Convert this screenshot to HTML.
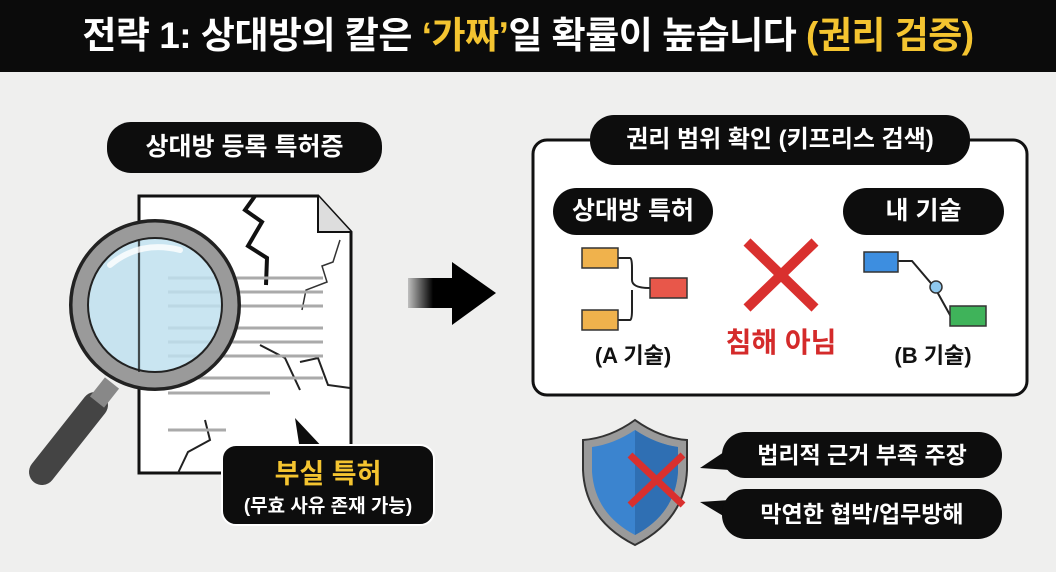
<!DOCTYPE html>
<html><head><meta charset="utf-8"><style>
*{margin:0;padding:0;box-sizing:border-box}
body{width:1056px;height:572px;background:#efefee;position:relative;overflow:hidden;font-family:"Liberation Sans","Noto Sans CJK KR",sans-serif;font-weight:bold}
.bar{position:absolute;left:0;top:0;width:1056px;height:72px;background:#0b0b0b;color:#fff;font-size:37px;text-align:center;line-height:72px;letter-spacing:-0.5px}
.y{color:#f4c430}
.pill{position:absolute;background:#0d0d0d;color:#fff;border-radius:24px;text-align:center;font-size:25px}
svg{position:absolute;left:0;top:0}
</style></head><body>
<div class="bar">전략 1: 상대방의 칼은 <span class="y">‘가짜’</span>일 확률이 높습니다 <span class="y">(권리 검증)</span></div>
<svg width="1056" height="572">
<path d="M139 196 L318 196 L351 232 L351 473 L139 473 Z" fill="#fff" stroke="#111" stroke-width="3"/>
<path d="M318 196 L318 232 L351 232" fill="#ddd" stroke="#111" stroke-width="2"/>
<path d="M255 196 L245 210 L262 222 L248 246 L267 258 L266 285" fill="none" stroke="#111" stroke-width="4"/>
<path d="M340 240 L333 262 L322 266 L327 282 L306 290 L302 310" fill="none" stroke="#333" stroke-width="1.5"/>
<path d="M260 345 L285 358 L300 390 M300 362 L318 358 L328 385 L350 388" fill="none" stroke="#222" stroke-width="2"/>
<path d="M205 420 L210 440 L188 452 L178 473" fill="none" stroke="#222" stroke-width="2"/>
<g stroke="#aaa" stroke-width="3">
<line x1="168" y1="278" x2="323" y2="278"/><line x1="168" y1="292" x2="323" y2="292"/><line x1="168" y1="306" x2="323" y2="306"/>
<line x1="168" y1="328" x2="323" y2="328"/><line x1="168" y1="342" x2="323" y2="342"/><line x1="168" y1="356" x2="323" y2="356"/>
<line x1="168" y1="378" x2="323" y2="378"/><line x1="168" y1="393" x2="270" y2="393"/><line x1="168" y1="430" x2="226" y2="430"/>
</g>
<line x1="95" y1="405" x2="40" y2="475" stroke="#222" stroke-width="4" stroke-linecap="round"/>
<line x1="95" y1="405" x2="42" y2="472" stroke="#444" stroke-width="26" stroke-linecap="round"/>
<line x1="112" y1="383" x2="97" y2="402" stroke="#888" stroke-width="18"/>
<circle cx="155" cy="305" r="84" fill="#bfe0ee" fill-opacity="0.85" stroke="#222" stroke-width="4"/>
<circle cx="155" cy="305" r="75" fill="none" stroke="#9a9a9a" stroke-width="15"/>
<circle cx="155" cy="305" r="67" fill="none" stroke="#222" stroke-width="2"/>
<line x1="139" y1="239" x2="139" y2="372" stroke="#222" stroke-width="1.5"/>
<path d="M110 265 Q140 240 180 250" fill="none" stroke="#fff" stroke-width="6" stroke-linecap="round" opacity="0.8"/>
<path d="M295 418 L325 450 L300 450 Z" fill="#0d0d0d"/>
<rect x="222" y="445" width="212" height="80" rx="14" fill="#0d0d0d" stroke="#fff" stroke-width="2"/>
<text x="328" y="483" font-size="27" fill="#f4c430" text-anchor="middle">부실 특허</text>
<text x="328" y="512" font-size="19" fill="#fff" text-anchor="middle">(무효 사유 존재 가능)</text>
<defs><linearGradient id="g" x1="0" x2="1"><stop offset="0" stop-color="#000" stop-opacity="0.2"/><stop offset="0.5" stop-color="#000"/></linearGradient></defs>
<rect x="408" y="278" width="50" height="30" fill="url(#g)"/>
<path d="M452 262 L496 293 L452 325 Z" fill="#000"/>
<rect x="533" y="140" width="494" height="255" rx="14" fill="#fff" stroke="#111" stroke-width="3"/>
<g stroke="#222" stroke-width="2" fill="none"><path d="M617 258 L630 258 Q632 258 632 268 L632 280 Q632 288 650 288 M617 320 L630 320 Q632 320 632 310 L632 290"/></g>
<rect x="582" y="248" width="36" height="20" fill="#f0b24c" stroke="#333" stroke-width="1.5"/>
<rect x="582" y="310" width="36" height="20" fill="#f0b24c" stroke="#333" stroke-width="1.5"/>
<rect x="650" y="278" width="37" height="20" fill="#e8574a" stroke="#333" stroke-width="1.5"/>
<path d="M898 261 L912 261 L935 288 L950 315 L962 315" fill="none" stroke="#222" stroke-width="2"/>
<rect x="864" y="252" width="34" height="20" fill="#3d8ee0" stroke="#333" stroke-width="1.5"/>
<circle cx="936" cy="287" r="6" fill="#8fc8ee" stroke="#333" stroke-width="1.5"/>
<rect x="950" y="306" width="36" height="20" fill="#3fb35a" stroke="#333" stroke-width="1.5"/>
<g stroke="#d9302e" stroke-width="10"><line x1="747" y1="242" x2="815" y2="308"/><line x1="815" y1="242" x2="747" y2="308"/></g>
<text x="781" y="352" font-size="28" fill="#d42a2a" text-anchor="middle">침해 아님</text>
<text x="633" y="363" font-size="22" fill="#111" text-anchor="middle">(A 기술)</text>
<text x="933" y="363" font-size="22" fill="#111" text-anchor="middle">(B 기술)</text>
<path d="M635 420 Q610 438 583 440 L583 470 Q585 520 635 545 Q685 520 687 470 L687 440 Q660 438 635 420 Z" fill="#9a9a9a" stroke="#333" stroke-width="2"/>
<path d="M635 430 Q614 444 592 447 L592 472 Q595 514 635 535 Q675 514 678 472 L678 447 Q656 444 635 430 Z" fill="#3b84cf"/>
<path d="M635 430 L635 535 Q675 514 678 472 L678 447 Q656 444 635 430 Z" fill="#2f6fb3"/>
<g stroke="#d9302e" stroke-width="7"><line x1="630" y1="455" x2="683" y2="505"/><line x1="683" y1="455" x2="630" y2="505"/></g>
<path d="M700 468 L730 448 L730 470 Z" fill="#0d0d0d"/>
<path d="M700 502 L730 500 L730 520 Z" fill="#0d0d0d"/>
</svg>
<div class="pill" style="left:107px;top:122px;width:275px;height:51px;line-height:51px">상대방 등록 특허증</div>
<div class="pill" style="left:590px;top:115px;width:380px;height:50px;line-height:50px;font-size:24px">권리 범위 확인 (키프리스 검색)</div>
<div class="pill" style="left:553px;top:188px;width:160px;height:47px;line-height:47px">상대방 특허</div>
<div class="pill" style="left:843px;top:188px;width:161px;height:47px;line-height:47px">내 기술</div>
<div class="pill" style="left:722px;top:432px;width:280px;height:46px;line-height:46px;font-size:23px">법리적 근거 부족 주장</div>
<div class="pill" style="left:722px;top:489px;width:280px;height:50px;line-height:50px;font-size:23px">막연한 협박/업무방해</div>
</body></html>
